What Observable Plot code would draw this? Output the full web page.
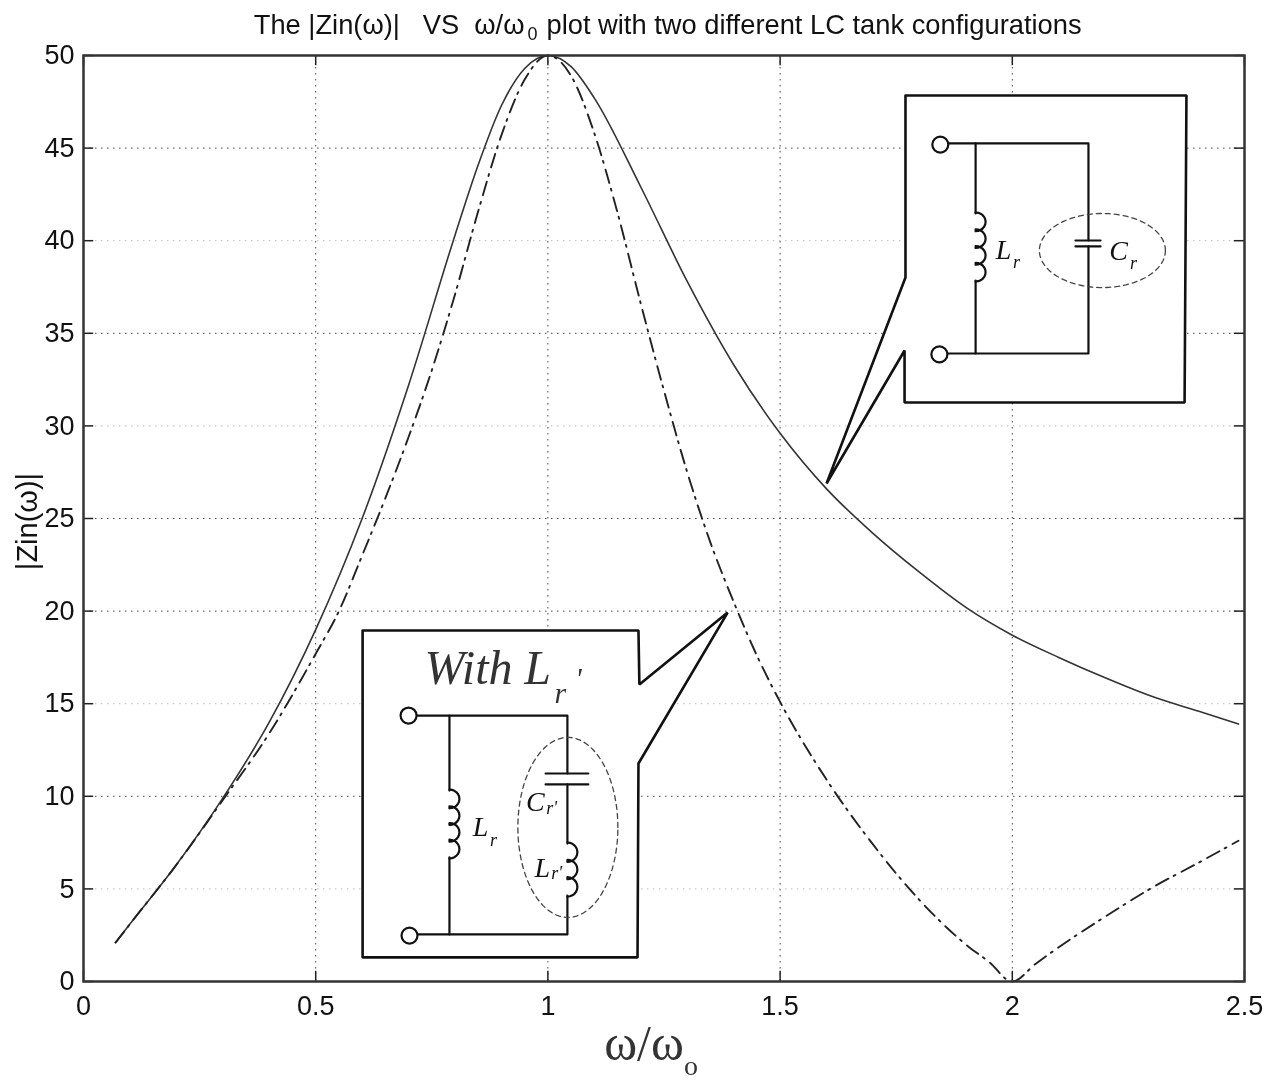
<!DOCTYPE html>
<html>
<head>
<meta charset="utf-8">
<script src="https://cdn.jsdelivr.net/npm/d3@7"></script>
<script src="https://cdn.jsdelivr.net/npm/@observablehq/plot@0.6"></script>
<style>
  html, body { margin: 0; padding: 0; background: #fff; }
  svg { display: block; filter: blur(0.45px); }
</style>
</head>
<body>
<div id="chart"></div>
<script>
// ---- tick values
const xTicks = [0, 0.5, 1, 1.5, 2, 2.5];
const yTicks = [0, 5, 10, 15, 20, 25, 30, 35, 40, 45, 50];
const yGridStrong = [10, 20, 25, 35, 45];
const yGridFaint = [5, 15, 30, 40];
const xGrid = [0.5, 1, 1.5, 2];

// ---- solid curve (original LC tank)
const solidW = [0.069,0.1,0.2,0.3,0.4,0.5,0.6,0.7,0.8,0.85,0.9,0.95,1.0,1.05,1.1,1.2,1.3,1.4,1.5,1.6,1.7,1.8,1.9,2.0,2.1,2.2,2.3,2.4,2.487];
const solidZ = [2.1,3.1,6.3,9.9,14.0,19.0,25.0,32.2,40.3,44.1,47.3,49.3,50,49.4,47.7,42.9,37.8,33.3,29.6,26.6,24.2,22.1,20.2,18.7,17.5,16.4,15.4,14.6,13.9];

// ---- dash-dot curve (with Lr')
const dashW = [0.069,0.1,0.2,0.3,0.4,0.5,0.55,0.6,0.65,0.7,0.75,0.8,0.85,0.9,0.95,1.0,1.05,1.1,1.15,1.2,1.25,1.3,1.35,1.4,1.45,1.5,1.6,1.7,1.8,1.9,1.95,2.0,2.05,2.1,2.2,2.3,2.4,2.487];
const dashZ = [2.1,3.1,6.3,9.8,13.4,17.7,20.0,23.0,26.1,29.4,33.0,37.1,41.6,45.7,48.7,50,48.9,45.8,41.5,36.6,31.9,27.5,23.7,20.5,17.6,15.1,10.9,7.4,4.4,2.0,1.05,0,0.95,1.85,3.5,5.05,6.4,7.6];

// ---- callout outlines, in chart units
const calloutTop = [[1.770,47.84],[2.375,47.84],[2.371,31.26],[1.768,31.26],[1.768,34.07],[1.600,26.89],[1.770,38.01],[1.770,47.84]];
const calloutBottom = [[0.601,18.95],[1.195,18.95],[1.197,16.04],[1.387,19.92],[1.195,11.77],[1.193,1.30],[0.601,1.30],[0.601,18.95]];

// ---- schematics, in chart units
const coil = (x0, yTop, yBot, rx, n) => {
  const step = (yTop - yBot) / n, pts = [];
  for (let k = 0; k < n; k++) {
    const c = yTop - step * (k + 0.5);
    for (const t of d3.range(-90, 91, 15)) {
      pts.push([x0 + rx * Math.cos(t * Math.PI / 180), c - step * 0.56 * Math.sin(t * Math.PI / 180)]);
    }
  }
  return pts;
};
const ellipse = (cx, cy, rx, ry) => d3.range(0, 361, 4).map(t => [cx + rx * Math.cos(t * Math.PI / 180), cy + ry * Math.sin(t * Math.PI / 180)]);

const wires = [
  // top schematic
  [[1.863,45.25],[2.164,45.25],[2.164,40.01]],
  [[2.164,39.69],[2.164,33.91],[1.860,33.91]],
  [[1.921,45.25],[1.921,41.47]],
  [[1.921,37.85],[1.921,33.91]],
  [[2.136,40.01],[2.190,40.01]],
  [[2.136,39.69],[2.190,39.69]],
  coil(1.921, 41.47, 37.85, 0.0215, 4),
  // bottom schematic
  [[0.719,14.36],[1.042,14.36],[1.042,11.23]],
  [[1.042,10.64],[1.042,7.45]],
  [[1.042,4.64],[1.042,2.54],[0.719,2.54]],
  [[0.788,14.36],[0.788,10.31]],
  [[0.788,6.70],[0.788,2.54]],
  [[0.995,11.23],[1.087,11.23]],
  [[0.995,10.64],[1.087,10.64]],
  coil(0.788, 10.31, 6.70, 0.0215, 4),
  coil(1.042, 7.45, 4.64, 0.0215, 3)
];
const ovals = [ellipse(2.194, 39.47, 0.1357, 2.0), ellipse(1.043, 8.32, 0.1077, 4.86)];
const terminals = [[1.845,45.19],[1.843,33.86],[0.700,14.36],[0.702,2.48]];

// ---- schematic labels
const bigLabels = [["L",1.981,39.47],["C",2.229,39.42],["L",0.855,8.32],["C",0.973,9.67],["L",0.988,6.10]];
const subLabels = [["r",2.009,38.82],["r",2.261,38.77],["r",0.883,7.61],["r'",1.008,9.34],["r'",1.019,5.83]];
const headLabels = [["With",0.829,16.9],["L",0.978,16.9]];
const headSub = [["r",1.027,15.55],["'",1.066,16.36]];

const flat = paths => paths.flatMap((p, i) => p.map(([x, y]) => ({x, y, z: i})));
const serif = "'Liberation Serif', serif";
const sans = "'Liberation Sans', Arial, sans-serif";
const ink = "#222";

const chart = Plot.plot({
  width: 1280, height: 1082,
  marginLeft: 83, marginRight: 36, marginTop: 55, marginBottom: 101,
  style: {fontFamily: sans, background: "#fff", overflow: "visible"},
  x: {domain: [0, 2.5], label: null},
  y: {domain: [0, 50], label: null},
  marks: [
    // grid
    Plot.ruleX(xGrid, {stroke: "#444", strokeWidth: 1, strokeDasharray: "1.5 4.5"}),
    Plot.ruleY(yGridStrong, {stroke: "#444", strokeWidth: 1, strokeDasharray: "1.5 4.5"}),
    Plot.ruleY(yGridFaint, {stroke: "#bbb", strokeWidth: 1, strokeDasharray: "1.5 4.5"}),
    // inward ticks
    Plot.ruleX(xTicks, {y1: 0, y2: 0.55, stroke: ink, strokeWidth: 1.5}),
    Plot.ruleX(xTicks, {y1: 49.45, y2: 50, stroke: ink, strokeWidth: 1.5}),
    Plot.ruleY(yTicks, {x1: 0, x2: 0.022, stroke: ink, strokeWidth: 1.5}),
    Plot.ruleY(yTicks, {x1: 2.478, x2: 2.5, stroke: ink, strokeWidth: 1.5}),
    // curves
    Plot.line(solidW, {x: d => d, y: (d, i) => solidZ[i], curve: "monotone-x", stroke: "#333", strokeWidth: 1.6}),
    Plot.line(dashW, {x: d => d, y: (d, i) => dashZ[i], curve: "monotone-x", stroke: "#222", strokeWidth: 1.9, strokeDasharray: "14 6 2 7"}),
    // callouts
    Plot.line(calloutTop, {x: "0", y: "1", fill: "white", stroke: "#111", strokeWidth: 2.6, strokeLinejoin: "miter"}),
    Plot.line(calloutBottom, {x: "0", y: "1", fill: "white", stroke: "#111", strokeWidth: 2.6, strokeLinejoin: "miter"}),
    // schematics
    Plot.line(flat(wires), {x: "x", y: "y", z: "z", stroke: "#111", strokeWidth: 2.2}),
    Plot.line(flat(ovals), {x: "x", y: "y", z: "z", stroke: "#444", strokeWidth: 1.3, strokeDasharray: "5 4"}),
    Plot.dot(terminals, {x: "0", y: "1", r: 8, fill: "white", stroke: "#111", strokeWidth: 2.2}),
    Plot.text(bigLabels, {x: "1", y: "2", text: "0", fontFamily: serif, fontStyle: "italic", fontSize: 28, fill: "#111"}),
    Plot.text(subLabels, {x: "1", y: "2", text: "0", fontFamily: serif, fontStyle: "italic", fontSize: 18, fill: "#111"}),
    Plot.text(headLabels, {x: "1", y: "2", text: "0", fontFamily: serif, fontStyle: "italic", fontSize: 48, fill: "#333"}),
    Plot.text(headSub, {x: "1", y: "2", text: "0", fontFamily: serif, fontStyle: "italic", fontSize: 30, fill: "#333"}),
    // frame
    Plot.frame({stroke: "#333", strokeWidth: 2.5}),
    // axes
    Plot.axisX(xTicks, {tickSize: 0, tickPadding: 14, tickFormat: d => String(d), fontSize: 27, fill: "#111", label: null}),
    Plot.axisY(yTicks, {tickSize: 0, tickPadding: 9, tickFormat: d => String(d), fontSize: 27, fill: "#111", label: null}),
    // titles
    Plot.text(["The |Zin(ω)|\u00a0\u00a0\u00a0VS\u00a0\u00a0ω/ω"], {
      frameAnchor: "top-left", textAnchor: "end", dx: 441, dy: -41, fontSize: 27.3, fill: "#111"
    }),
    Plot.text(["0"], {
      frameAnchor: "top-left", textAnchor: "middle", dx: 449, dy: -28, fontSize: 18, fill: "#111"
    }),
    Plot.text(["plot with two different LC tank configurations"], {
      frameAnchor: "top-left", textAnchor: "start", dx: 463, dy: -41, fontSize: 27.3, fill: "#111"
    }),
    Plot.text(["|Zin(ω)|"], {
      frameAnchor: "left", textAnchor: "middle", dx: -56, dy: 3, rotate: -90, fontSize: 29, fill: "#111"
    }),
    Plot.text(["ω/ω"], {
      frameAnchor: "bottom", textAnchor: "middle", dx: -20, dy: 78, fontFamily: serif, fontSize: 50, fill: "#333"
    }),
    Plot.text(["o"], {
      frameAnchor: "bottom", textAnchor: "middle", dx: 27, dy: 93, fontFamily: serif, fontSize: 28, fill: "#333"
    })
  ]
});
document.getElementById("chart").append(chart);
</script>
</body>
</html>
